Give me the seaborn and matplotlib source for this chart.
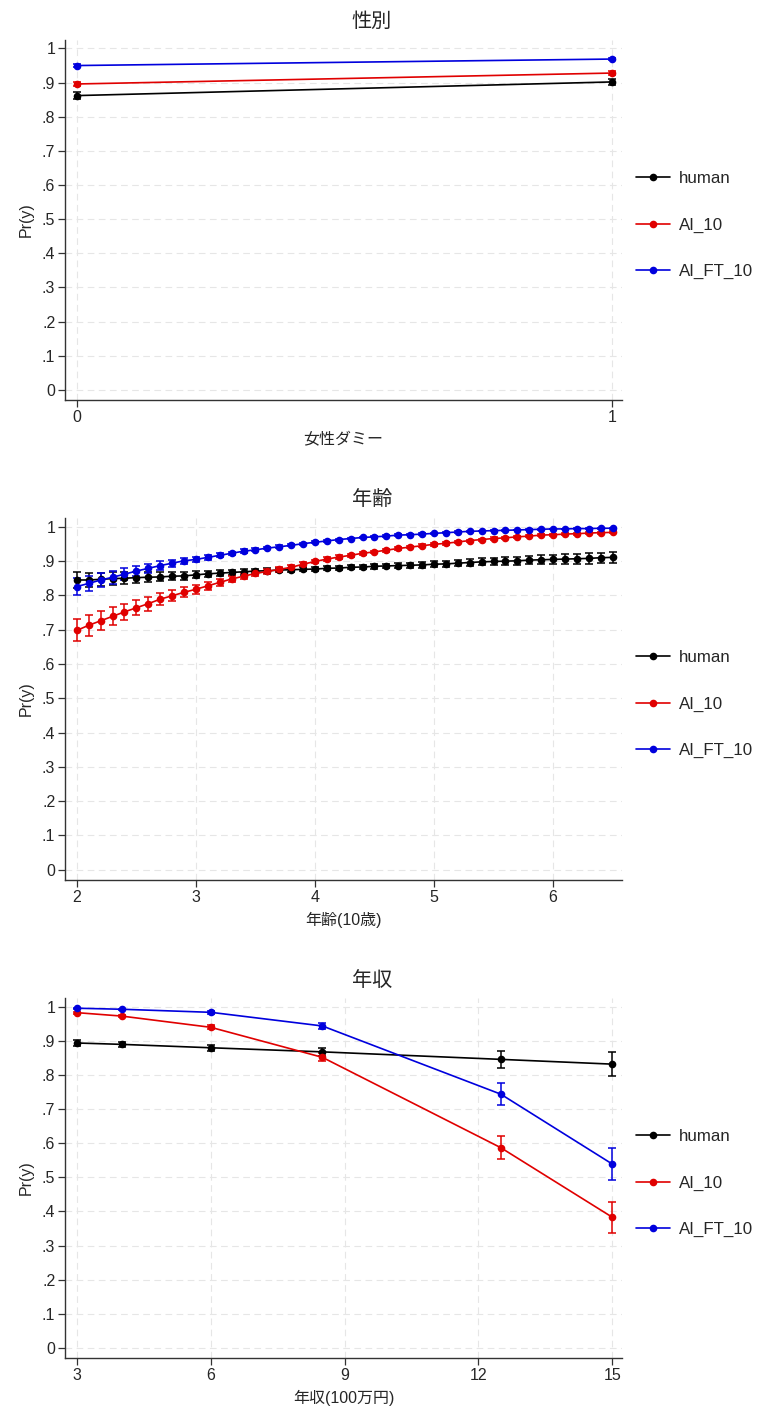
import numpy as np
import pandas as pd
import matplotlib
matplotlib.use("Agg")
import matplotlib.pyplot as plt
import seaborn as sns

# ---------------- data ----------------
models = ["human", "AI_10", "AI_FT_10"]
colors = ["#000000", "#e00000", "#0000dd"]

# Panel 1: gender
gender_x = [0, 1]
gender_human = [0.862, 0.902]
gender_ai10 = [0.896, 0.928]
gender_aift = [0.950, 0.969]
gender_human_err = [0.011, 0.009]
gender_ai10_err = [0.007, 0.006]
gender_aift_err = [0.004, 0.003]

# Panel 2: age (10 years)
age_x = [2.0, 2.1, 2.2, 2.3, 2.4, 2.5, 2.6, 2.7, 2.8, 2.9,
         3.0, 3.1, 3.2, 3.3, 3.4, 3.5, 3.6, 3.7, 3.8, 3.9,
         4.0, 4.1, 4.2, 4.3, 4.4, 4.5, 4.6, 4.7, 4.8, 4.9,
         5.0, 5.1, 5.2, 5.3, 5.4, 5.5, 5.6, 5.7, 5.8, 5.9,
         6.0, 6.1, 6.2, 6.3, 6.4, 6.5]
age_human = [0.845, 0.845, 0.847, 0.849, 0.850, 0.852, 0.853, 0.854, 0.856, 0.857,
             0.860, 0.863, 0.865, 0.867, 0.869, 0.871, 0.872, 0.874, 0.875, 0.876,
             0.877, 0.879, 0.880, 0.882, 0.883, 0.885, 0.886, 0.887, 0.888, 0.889,
             0.891, 0.892, 0.894, 0.896, 0.898, 0.899, 0.900, 0.901, 0.903, 0.904,
             0.905, 0.906, 0.907, 0.908, 0.910, 0.911]
age_human_err = [0.022, 0.021, 0.019, 0.018, 0.017, 0.015, 0.014, 0.013, 0.012, 0.011,
                 0.010, 0.009, 0.009, 0.008, 0.008, 0.007, 0.007, 0.006, 0.006, 0.006,
                 0.006, 0.006, 0.006, 0.006, 0.006, 0.007, 0.007, 0.007, 0.008, 0.008,
                 0.008, 0.009, 0.009, 0.010, 0.010, 0.011, 0.011, 0.012, 0.012, 0.013,
                 0.013, 0.014, 0.014, 0.015, 0.015, 0.016]
age_ai10 = [0.698, 0.713, 0.726, 0.739, 0.752, 0.764, 0.776, 0.789, 0.799, 0.809,
            0.818, 0.828, 0.838, 0.848, 0.856, 0.864, 0.870, 0.876, 0.882, 0.891,
            0.899, 0.906, 0.912, 0.917, 0.923, 0.927, 0.932, 0.937, 0.941, 0.945,
            0.949, 0.952, 0.956, 0.960, 0.963, 0.966, 0.968, 0.971, 0.973, 0.976,
            0.977, 0.979, 0.980, 0.982, 0.983, 0.984]
age_ai10_err = [0.032, 0.030, 0.028, 0.026, 0.024, 0.022, 0.020, 0.018, 0.016, 0.015,
                0.013, 0.012, 0.011, 0.010, 0.009, 0.008, 0.007, 0.007, 0.006, 0.006,
                0.005, 0.005, 0.005, 0.004, 0.004, 0.004, 0.004, 0.004, 0.004, 0.004,
                0.004, 0.004, 0.003, 0.003, 0.003, 0.003, 0.003, 0.003, 0.003, 0.003,
                0.003, 0.003, 0.003, 0.003, 0.003, 0.003]
age_aift = [0.826, 0.835, 0.845, 0.853, 0.862, 0.871, 0.879, 0.887, 0.894, 0.901,
            0.905, 0.911, 0.917, 0.923, 0.929, 0.933, 0.938, 0.942, 0.946, 0.951,
            0.955, 0.959, 0.963, 0.966, 0.969, 0.971, 0.973, 0.976, 0.977, 0.979,
            0.981, 0.983, 0.985, 0.987, 0.988, 0.989, 0.990, 0.991, 0.992, 0.993,
            0.994, 0.994, 0.995, 0.995, 0.996, 0.996]
age_aift_err = [0.026, 0.023, 0.021, 0.019, 0.017, 0.015, 0.013, 0.012, 0.010, 0.009,
                0.008, 0.007, 0.006, 0.005, 0.005, 0.004, 0.004, 0.004, 0.003, 0.003,
                0.003, 0.003, 0.003, 0.002, 0.002, 0.002, 0.002, 0.002, 0.002, 0.002,
                0.002, 0.002, 0.002, 0.001, 0.001, 0.001, 0.001, 0.001, 0.001, 0.001,
                0.001, 0.001, 0.001, 0.001, 0.001, 0.001]

# Panel 3: income (million yen)
inc_x = [3, 4, 6, 8.5, 12.5, 15]
inc_human = [0.894, 0.890, 0.880, 0.868, 0.846, 0.832]
inc_human_err = [0.010, 0.008, 0.008, 0.012, 0.025, 0.035]
inc_ai10 = [0.983, 0.973, 0.940, 0.852, 0.587, 0.383]
inc_ai10_err = [0.003, 0.004, 0.006, 0.012, 0.033, 0.045]
inc_aift = [0.996, 0.993, 0.984, 0.944, 0.744, 0.539]
inc_aift_err = [0.002, 0.002, 0.004, 0.008, 0.033, 0.048]

y_ticks = [0, 0.1, 0.2, 0.3, 0.4, 0.5, 0.6, 0.7, 0.8, 0.9, 1.0]
y_ticklabels = ["0", ".1", ".2", ".3", ".4", ".5", ".6", ".7", ".8", ".9", "1"]

panels = [
    dict(title="性別", xlabel="女性ダミー", x=gender_x,
         ys=[gender_human, gender_ai10, gender_aift],
         errs=[gender_human_err, gender_ai10_err, gender_aift_err],
         xticks=[0, 1], xlim=(-0.022, 1.019)),
    dict(title="年齢", xlabel="年齢(10歳)", x=age_x,
         ys=[age_human, age_ai10, age_aift],
         errs=[age_human_err, age_ai10_err, age_aift_err],
         xticks=[2, 3, 4, 5, 6], xlim=(1.9, 6.58)),
    dict(title="年収", xlabel="年収(100万円)", x=inc_x,
         ys=[inc_human, inc_ai10, inc_aift],
         errs=[inc_human_err, inc_ai10_err, inc_aift_err],
         xticks=[3, 6, 9, 12, 15], xlim=(2.73, 15.22)),
]

# ---------------- style ----------------
sns.set_theme(style="white")
plt.rcParams["font.family"] = ["Liberation Sans", "Noto Sans CJK JP", "DejaVu Sans"]
plt.rcParams["axes.unicode_minus"] = False

fig = plt.figure(figsize=(7.6, 14.14), dpi=100)
ax_rects = [
    [0.0855, 0.7170, 0.733, 0.2550],
    [0.0855, 0.3777, 0.733, 0.2560],
    [0.0855, 0.0396, 0.733, 0.2546],
]

for rect, p in zip(ax_rects, panels):
    ax = fig.add_axes(rect)
    rows = []
    for m, ys in zip(models, p["ys"]):
        for xv, yv in zip(p["x"], ys):
            rows.append({"x": xv, "Pr": yv, "model": m})
    df = pd.DataFrame(rows)

    # error bars first (below markers)
    for m, c, ys, es in zip(models, colors, p["ys"], p["errs"]):
        ax.errorbar(p["x"], ys, yerr=es, fmt="none", ecolor=c,
                    elinewidth=1.1, capsize=3, capthick=1.1, zorder=2)

    sns.lineplot(data=df, x="x", y="Pr", hue="model", hue_order=models,
                 palette=colors, marker="o", markersize=5.5,
                 markeredgewidth=0, linewidth=1.2, ax=ax, legend=True,
                 zorder=3)

    handles, labels = ax.get_legend_handles_labels()
    ax.legend(handles, labels, loc="center left", bbox_to_anchor=(1.013, 0.485),
              borderaxespad=0, frameon=False, fontsize=12.2,
              handlelength=2.0, handletextpad=0.55, labelspacing=1.85)

    ax.set_xlim(*p["xlim"])
    ax.set_ylim(-0.03, 1.026)
    ax.set_xticks(p["xticks"])
    ax.set_xticklabels([str(t) for t in p["xticks"]])
    ax.set_yticks(y_ticks)
    ax.set_yticklabels(y_ticklabels)
    ax.set_title(p["title"], fontsize=14.5, pad=9, x=0.551)
    ax.set_xlabel(p["xlabel"], fontsize=11.5, labelpad=5)
    ax.set_ylabel("Pr(y)", fontsize=11.5, labelpad=6)

    ax.grid(True, color="#e6e6e6", linestyle=(0, (6, 4)), linewidth=0.8)
    ax.set_axisbelow(True)
    for s in ["top", "right"]:
        ax.spines[s].set_visible(False)
    for s in ["left", "bottom"]:
        ax.spines[s].set_color("#333333")
        ax.spines[s].set_linewidth(1.0)
    ax.tick_params(axis="both", which="major", direction="out", length=5,
                   width=0.9, color="#333333", labelsize=11.5, pad=2,
                   left=True, bottom=True)

fig.savefig("out.png", dpi=100, facecolor="white")
